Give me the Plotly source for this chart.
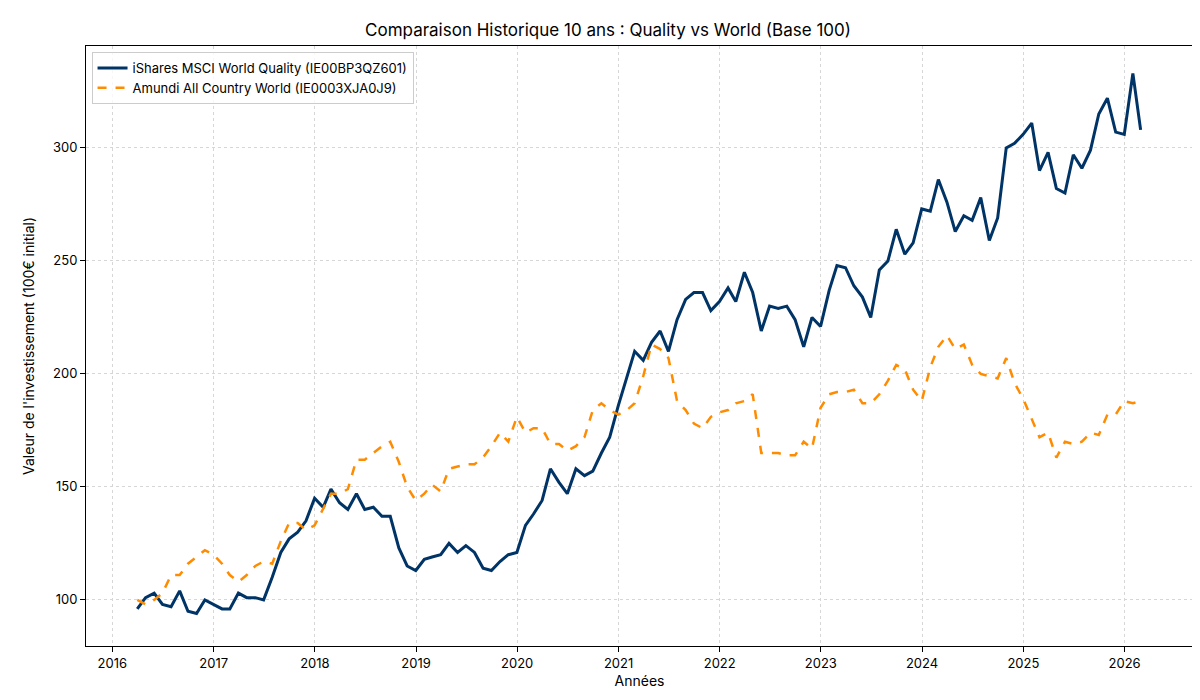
import pandas as pd
import plotly.graph_objects as go

dates = pd.date_range('2016-03-31', periods=120, freq='ME')

quality = [96, 101, 103, 98, 97, 104, 95, 94, 100, 98,
           96, 96, 103, 101, 101, 100, 110, 121, 127, 130, 135, 145,
           141, 149, 143, 140, 147, 140, 141, 137, 137, 123, 115, 113,
           118, 119, 120, 125, 121, 124, 121, 114, 113, 117, 120, 121,
           133, 138, 144, 158, 152, 147, 158, 155, 157, 165, 172, 186,
           199, 210, 206, 214, 219, 210, 224, 233, 236, 236, 228, 232,
           238, 232, 245, 236, 219, 230, 229, 230, 224, 212, 225, 221,
           237, 248, 247, 239, 234, 225, 246, 250, 264, 253, 258, 273,
           272, 286, 276, 263, 270, 268, 278, 259, 269, 300, 302, 306,
           311, 290, 298, 282, 280, 297, 291, 299, 315, 322, 307, 306,
           333, 308]

world = [100, 98, 100, 103, 111, 111, 116, 119, 122, 120,
         116, 111, 108, 111, 115, 117, 116, 126, 134, 134, 131, 133,
         140, 147, 147, 149, 162, 162, 165, 168, 170, 161, 150, 144,
         147, 151, 148, 158, 159, 160, 160, 163, 168, 174, 170, 181,
         174, 176, 176, 169, 169, 166, 168, 172, 184, 187, 184, 182,
         184, 187, 199, 213, 211, 207, 188, 184, 178, 176, 181, 183,
         184, 187, 188, 191, 165, 165, 165, 164, 164, 170, 167, 185,
         191, 192, 192, 193, 187, 187, 191, 197, 204, 202, 193, 188,
         203, 212, 217, 211, 213, 204, 200, 199, 198, 207, 196, 189,
         180, 172, 174, 163, 170, 169, 170, 174, 173, 182, 182, 188,
         187, 188]

fig = go.Figure()
fig.add_trace(go.Scatter(x=dates, y=quality, mode='lines',
                         name='iShares MSCI World Quality (IE00BP3QZ601)',
                         line=dict(color='#003366', width=3)))
fig.add_trace(go.Scatter(x=dates, y=world, mode='lines',
                         name='Amundi All Country World (IE0003XJA0J9)',
                         line=dict(color='#FF8C00', width=2.5, dash='dash')))

axis = dict(showline=True, linecolor='black', mirror=True, ticks='outside',
            tickcolor='black', showgrid=True, gridcolor='#d6d6d6', griddash='dot',
            zeroline=False, automargin=False, tickfont=dict(size=13, color='black'))

fig.update_layout(
    width=1200, height=700,
    font=dict(family='Inter, Roboto, sans-serif', color='black'),
    title=dict(text='Comparaison Historique 10 ans : Quality vs World (Base 100)',
               x=0.5, y=0.968, xanchor='center', yanchor='middle',
               automargin=False, font=dict(size=17)),
    plot_bgcolor='white', paper_bgcolor='white',
    margin=dict(l=78, r=15, t=38, b=62),
    xaxis=dict(axis, title=dict(text='Années', font=dict(size=14), standoff=6),
               range=['2015-09-28', '2026-09-05'], dtick='M12', tickformat='%Y'),
    yaxis=dict(axis, title=dict(text="Valeur de l'investissement (100€ initial)", font=dict(size=14)),
               range=[79.6, 345.1], dtick=50),
    legend=dict(x=0.005, y=0.99, xanchor='left', yanchor='top',
                bordercolor='#cccccc', borderwidth=1, bgcolor='rgba(255,255,255,0.8)',
                font=dict(size=13)),
)

fig.write_html('out.html')
